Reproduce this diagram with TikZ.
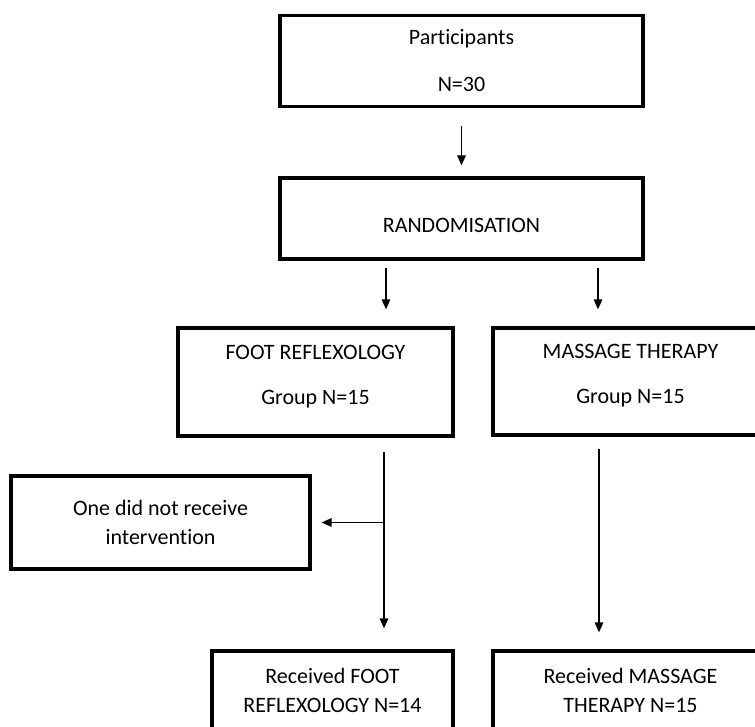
\documentclass[tikz,border=0pt]{standalone}
\usepackage{fontspec}
\setmainfont{Carlito}[Ligatures=NoCommon]
\usetikzlibrary{arrows.meta}

\begin{document}
\begin{tikzpicture}[x=1pt, y=-1pt,
    box/.style={draw, line width=3.2pt, align=center, inner sep=0pt, font=\fontsize{22}{26.4}\selectfont},
    arr/.style={-{Triangle[length=10pt,width=8.5pt]}, line width=1.6pt}]
    \useasboundingbox (0,0) rectangle (755,726);
    \clip (0,0) rectangle (755,726);
    \node (part) at (461.5,61) [box, minimum width=363pt, minimum height=91pt] {Participants\\[20.6pt]N=30};
    \node (rand) at (461.5,218.5) [box, minimum width=363pt, minimum height=81pt, text depth=0pt, text height=28pt] {RANDOMISATION};
    \node (foot) at (315.5,382) [box, minimum width=275pt, minimum height=108pt, text depth=15pt] {FOOT REFLEXOLOGY\\[18.6pt]Group N=15};
    \node (mass) at (630.5,381.5) [box, minimum width=275pt, minimum height=107pt, text depth=15pt] {MASSAGE THERAPY\\[18.6pt]Group N=15};
    \node (none) at (160.5,522.5) [box, minimum width=299pt, minimum height=93pt] {One did not receive\\[2.6pt]intervention};
    \node (rfoot) at (332.5,690) [box, minimum width=241pt, minimum height=78pt] {Received FOOT\\[2.6pt]REFLEXOLOGY N=14};
    \node (rmass) at (630.5,690) [box, minimum width=275pt, minimum height=78pt] {Received MASSAGE\\[2.6pt]THERAPY N=15};
    \coordinate (ra) at (386,259);
    \coordinate (mb) at (598,259);
    \coordinate (fd) at (384,436);
    \coordinate (md) at (599,435);
    \draw [arr, shorten <=18pt, shorten >=11pt] (part.south) -- (rand.north);
    \draw [arr, shorten <=9pt, shorten >=17pt] (ra) -- (ra |- foot.north);
    \draw [arr, shorten <=9pt, shorten >=17pt] (mb) -- (mb |- mass.north);
    \draw [arr, shorten <=16pt, shorten >=21pt] (fd) -- (fd |- rfoot.north);
    \draw [arr, shorten >=10pt] (fd |- none.east) -- (none.east);
    \draw [arr, shorten <=14pt, shorten >=17pt] (md) -- (md |- rmass.north);
\end{tikzpicture}
\end{document}
